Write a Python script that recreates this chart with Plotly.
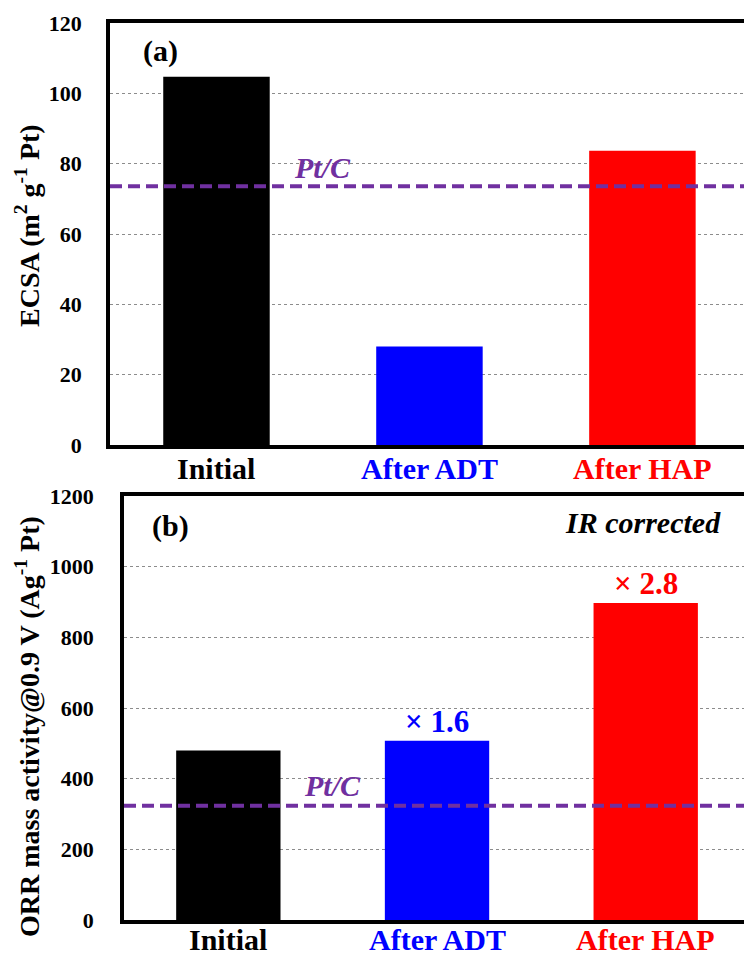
import plotly.graph_objects as go

categories = ["Initial", "After ADT", "After HAP"]
cat_colors = ["#000000", "#0000FF", "#FF0000"]
ecsa = [104.7, 28.0, 83.7]
ecsa_ptc = 73.6
mass_activity = [480, 507, 897]
mass_ptc = 323
gain_cats = ["After ADT", "After HAP"]
gain_labels = ["× 1.6", "× 2.8"]
gain_colors = ["#0000FF", "#FF0000"]
ecsa_ticks = [0, 20, 40, 60, 80, 100, 120]
mass_ticks = [0, 200, 400, 600, 800, 1000, 1200]

W, H = 744, 958
FONT = "Liberation Serif"
PURPLE = "#7030A0"

fig = go.Figure()
fig.add_trace(go.Bar(x=categories, y=ecsa, marker=dict(color=cat_colors, line=dict(width=0)),
                     width=0.5, xaxis="x", yaxis="y", showlegend=False))
fig.add_trace(go.Bar(x=categories, y=mass_activity, marker=dict(color=cat_colors, line=dict(width=0)),
                     width=0.5, xaxis="x2", yaxis="y2", showlegend=False))

top_dom = [1 - 445 / H, 1 - 23 / H]
bot_dom = [1 - 920 / H, 1 - 496 / H]

xcommon = dict(type="category", showline=True, linecolor="black", linewidth=3.5, mirror=True,
               showgrid=False, ticks="", showticklabels=False, automargin=False)
ycommon = dict(showline=True, linecolor="black", linewidth=3.5, showgrid=True,
               gridcolor="#8c8c8c", griddash="dot", gridwidth=1, zeroline=False, automargin=False,
               tickfont=dict(family=FONT, size=22, color="black", weight="bold"),
               ticks="", ticklabelstandoff=20)

fig.update_layout(
    width=W, height=H, margin=dict(l=0, r=0, t=0, b=0, autoexpand=False),
    paper_bgcolor="white", plot_bgcolor="white",
    xaxis=dict(xcommon, domain=[110 / W, 1], range=[-0.5, 2.477], anchor="y"),
    yaxis=dict(ycommon, domain=top_dom, range=[0, 120], tickvals=ecsa_ticks, anchor="x"),
    xaxis2=dict(xcommon, domain=[124 / W, 1], range=[-0.5, 2.471], anchor="y2"),
    yaxis2=dict(ycommon, domain=bot_dom, range=[0, 1200], tickvals=mass_ticks, anchor="x2",
                ticklabelstandoff=22),
)

# category labels
for xr, yr, shift in [("x", "y domain", -5), ("x2", "y2 domain", -1)]:
    for c, col in zip(categories, cat_colors):
        fig.add_annotation(x=c, y=0, xref=xr, yref=yr, text=c, showarrow=False,
                           yanchor="top", yshift=shift,
                           font=dict(family=FONT, size=30, color=col, weight="bold"))

# Pt/C reference lines
for xr, yr, val in [("x domain", "y", ecsa_ptc), ("x2 domain", "y2", mass_ptc)]:
    fig.add_shape(type="line", xref=xr, yref=yr, x0=0, x1=1, y0=val, y1=val,
                  line=dict(color=PURPLE, width=4, dash="12px,6px"), layer="above")

# gain labels above bars
for c, t, col in zip(gain_cats, gain_labels, gain_colors):
    fig.add_annotation(x=c, y=mass_activity[categories.index(c)], xref="x2", yref="y2", text=t,
                       showarrow=False, yanchor="bottom",
                       font=dict(family=FONT, size=31, color=col, weight="bold"))

fig.add_annotation(x=0.5, y=79, xref="x", yref="y", text="<i>Pt/C</i>", showarrow=False,
                   font=dict(family=FONT, size=30, color=PURPLE, weight="bold"))
fig.add_annotation(x=0.5, y=381, xref="x2", yref="y2", text="<i>Pt/C</i>", showarrow=False,
                   font=dict(family=FONT, size=30, color=PURPLE, weight="bold"))

fig.add_annotation(x=-0.265, y=112, xref="x", yref="y", text="(a)", showarrow=False,
                   font=dict(family=FONT, size=30, color="black", weight="bold"))
fig.add_annotation(x=-0.275, y=1115, xref="x2", yref="y2", text="(b)", showarrow=False,
                   font=dict(family=FONT, size=30, color="black", weight="bold"))
fig.add_annotation(x=723 / W, y=1126, xref="paper", yref="y2", text="<i>IR corrected</i>",
                   showarrow=False, xanchor="right",
                   font=dict(family=FONT, size=30, color="black", weight="bold"))

# y-axis titles
fig.add_annotation(x=27 / W, y=1 - 226 / H, xref="paper", yref="paper",
                   text="ECSA (m<sup>2</sup> g<sup>-1</sup> Pt)", textangle=-90, showarrow=False,
                   xanchor="center", yanchor="middle",
                   font=dict(family=FONT, size=28, color="black", weight="bold"))
fig.add_annotation(x=27 / W, y=1 - 727 / H, xref="paper", yref="paper",
                   text="ORR mass activity@0.9 V (Ag<sup>-1</sup> Pt)", textangle=-90, showarrow=False,
                   xanchor="center", yanchor="middle",
                   font=dict(family=FONT, size=28, color="black", weight="bold"))

fig.write_html("out.html")
